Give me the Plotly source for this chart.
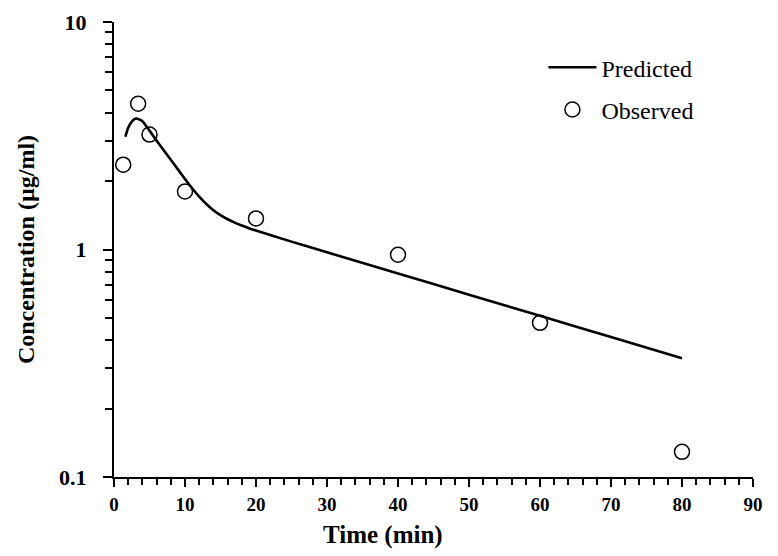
import plotly.graph_objects as go

# Observed data
obs_time = [1.3, 3.4, 5, 10, 20, 40, 60, 80]
obs_conc = [2.36, 4.37, 3.20, 1.80, 1.37, 0.948, 0.476, 0.129]

# Predicted curve
pred_time = [1.6, 2, 2.5, 3, 3.5, 4, 5, 6, 7, 8, 9, 10, 11, 12, 13, 14, 15, 16, 17, 18, 19, 20, 25, 30, 40, 50, 60, 70, 80]
pred_conc = [3.13, 3.43, 3.65, 3.76, 3.74, 3.66, 3.33, 3.01, 2.73, 2.48, 2.25, 2.04, 1.858, 1.706, 1.585, 1.489,
             1.416, 1.358, 1.312, 1.274, 1.240, 1.211, 1.083, 0.972, 0.784, 0.633, 0.511, 0.4125, 0.333]

x_ticks = [0, 10, 20, 30, 40, 50, 60, 70, 80, 90]
y_ticks = [0.1, 1, 10]
y_tick_text = ["0.1", "1", "10"]

FONT = "Liberation Serif"

fig = go.Figure()
fig.add_trace(go.Scatter(
    x=pred_time, y=pred_conc, mode="lines", name="Predicted",
    line=dict(color="black", width=2.6, shape="spline", smoothing=0.5),
    legendgroup="a",
))
fig.add_trace(go.Scatter(
    x=obs_time, y=obs_conc, mode="markers", name="Observed",
    marker=dict(symbol="circle-open", size=15, color="black", line=dict(width=1.5)),
    legendgroup="b",
))

fig.update_layout(
    width=778, height=556,
    margin=dict(l=106, r=33, t=14, b=87),
    paper_bgcolor="white", plot_bgcolor="white",
    font=dict(family=FONT, color="black"),
    showlegend=True,
    legend=dict(
        x=0.672, y=0.949, xanchor="left", yanchor="top",
        font=dict(family=FONT, size=24, color="black"),
        bgcolor="rgba(0,0,0,0)", itemwidth=48, tracegroupgap=8,
    ),
    xaxis=dict(
        range=[0, 90], tickvals=x_ticks, ticks="outside", ticklen=8, tickwidth=2,
        tickcolor="black", showline=True, linecolor="black", linewidth=2,
        showgrid=False, zeroline=False, ticklabelstandoff=1, automargin=False,
        tickfont=dict(family=FONT, size=19, color="black", weight="bold"),
        minor=dict(dtick=2, ticks="outside", ticklen=6, tickwidth=2, tickcolor="black", showgrid=False),
    ),
    yaxis=dict(
        type="log", range=[-1, 1], tickvals=y_ticks, ticktext=y_tick_text,
        ticks="outside", ticklen=9, tickwidth=2, tickcolor="black",
        showline=True, linecolor="black", linewidth=2, showgrid=False, zeroline=False,
        ticklabelstandoff=12, automargin=False,
        tickfont=dict(family=FONT, size=22, color="black", weight="bold"),
        minor=dict(dtick="D1", ticks="outside", ticklen=7, tickwidth=2, tickcolor="black", showgrid=False),
        title=dict(text="<b>Concentration (µg/ml)</b>", font=dict(family=FONT, size=24, color="black"), standoff=18),
    ),
    annotations=[dict(
        text="<b>Time (min)</b>", xref="paper", yref="paper", x=0.421, y=-0.1275,
        xanchor="center", yanchor="middle", showarrow=False,
        font=dict(family=FONT, size=25, color="black"),
    )],
)

fig.write_html("out.html")
